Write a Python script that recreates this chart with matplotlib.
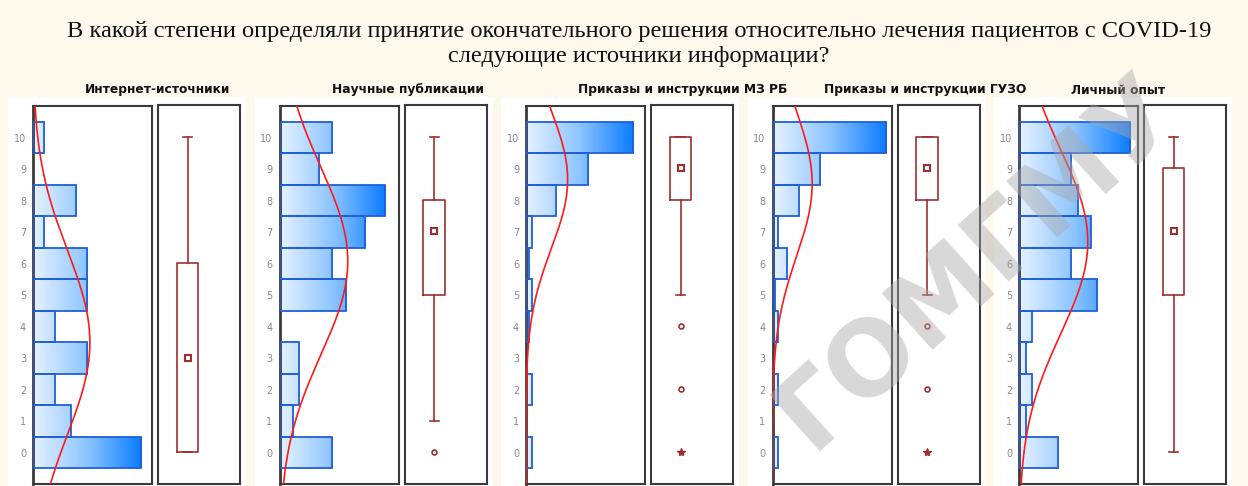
import numpy as np
import matplotlib
matplotlib.use("Agg")
import matplotlib.pyplot as plt
from matplotlib.patches import Rectangle
from matplotlib.colors import LinearSegmentedColormap
from matplotlib.cbook import boxplot_stats

# scores 0..10 and how many respondents gave each score
scores = list(range(11))
panel_titles = ["Интернет-источники", "Научные публикации", "Приказы и инструкции МЗ РБ",
                "Приказы и инструкции ГУЗО", "Личный опыт"]
internet = [20, 7, 4, 10, 4, 10, 10, 2, 8, 0, 2]
science = [8, 2, 3, 3, 0, 10, 8, 13, 16, 6, 8]
orders_mz = [2, 0, 2, 0, 1, 2, 1, 2, 10, 21, 36]
orders_guzo = [2, 0, 2, 0, 2, 1, 5, 2, 9, 16, 38]
own_exp = [6, 1, 2, 1, 2, 12, 8, 11, 9, 8, 17]
x_limits = [22, 18, 40, 40, 18.2]

title = ("В какой степени определяли принятие окончательного решения относительно лечения пациентов с COVID-19\n"
         "следующие источники информации?")

W, H = 1248, 486
fig = plt.figure(figsize=(W / 100, H / 100), dpi=100, facecolor="#fff9ed")

def fx(px):
    return px / W

def fy(py):
    return 1 - py / H

grad = LinearSegmentedColormap.from_list("g", ["#e6f2ff", "#8cc4ff", "#0a7cff"])
box_col = "#9e2f2f"
step = 246.5

series = [internet, science, orders_mz, orders_guzo, own_exp]
for i, counts in enumerate(series):
    off = step * i
    # white card behind each pair of plots
    fig.add_artist(Rectangle((fx(8 + off), 0), fx(238), fy(97), transform=fig.transFigure,
                             facecolor="white", edgecolor="none", zorder=-1))
    fig.text(fx(85 + off), fy(90), panel_titles[i], fontsize=8.8, fontweight="bold",
             family="DejaVu Sans", ha="left", va="center", color="#111111")

    # histogram
    ax = fig.add_axes([fx(33 + off), fy(484), fx(119), (484 - 106) / H])
    cmax = max(counts)
    for s, c in zip(scores, counts):
        if c == 0:
            continue
        r = Rectangle((0, s - 0.5), c, 1, facecolor="none", edgecolor="#1f5fd8", lw=1.3, zorder=3)
        ax.add_patch(r)
        im = ax.imshow(np.linspace(0, 1, 256).reshape(1, -1), cmap=grad, aspect="auto",
                       extent=[0, cmax, s - 0.5, s + 0.5], zorder=2)
        im.set_clip_path(r)
    ax.set_xlim(0, x_limits[i])
    ax.set_ylim(-1, 11)

    # normal curve fitted to the answers
    vals = np.repeat(scores, counts)
    mu, sd = vals.mean(), vals.std()
    yy = np.linspace(-1, 11, 300)
    xx = len(vals) * np.exp(-0.5 * ((yy - mu) / sd) ** 2) / (sd * np.sqrt(2 * np.pi))
    ax.plot(xx, yy, color="#ff1a1a", lw=1.2, zorder=4)

    ax.set_xticks([])
    ax.set_yticks(scores)
    ax.tick_params(axis="y", length=0, labelsize=7, labelcolor="#8a8a8a", pad=5)
    for sp in ax.spines.values():
        sp.set_color("#3a3a3a")
        sp.set_linewidth(1.5)
    ax.spines["left"].set_linewidth(2)

    # box plot: median square, quartile box, whiskers, outliers
    bx = fig.add_axes([fx(158 + off), fy(484), fx(82), (484 - 105) / H])
    bx.set_xlim(0, 1)
    bx.set_ylim(-1, 11)
    st = boxplot_stats(vals, whis=1.5)[0]
    bx.bxp([st], positions=[0.36], widths=0.26, showfliers=False, capwidths=0.11,
           boxprops=dict(color=box_col, lw=1.2), whiskerprops=dict(color=box_col, lw=1.2),
           capprops=dict(color=box_col, lw=1.2), medianprops=dict(lw=0))
    bx.plot([0.36], [st["med"]], marker="s", ms=4.5, mfc="white", mec=box_col, mew=1.5)
    iqr = st["q3"] - st["q1"]
    for f in np.unique(st["fliers"]):
        if f < st["q1"] - 3 * iqr or f > st["q3"] + 3 * iqr:
            bx.plot([0.36], [f], marker="*", ms=6, color=box_col)
        else:
            bx.plot([0.36], [f], marker="o", ms=3.5, mfc="white", mec=box_col, mew=1.2)
    bx.set_xticks([])
    bx.set_yticks([])
    for sp in bx.spines.values():
        sp.set_color("#3a3a3a")
        sp.set_linewidth(1.5)

fig.text(0.512, fy(44), title, fontsize=17.6, family="Liberation Serif", ha="center", va="center",
         linespacing=1.2, color="#111111")

# watermark
fig.text(fx(978), fy(262), "ГОМГМУ", fontsize=74, fontweight="bold", family="DejaVu Sans",
         rotation=42, ha="center", va="center", color="#a8a8a8", alpha=0.45, zorder=10)

fig.savefig("out.png", dpi=100, facecolor=fig.get_facecolor())
